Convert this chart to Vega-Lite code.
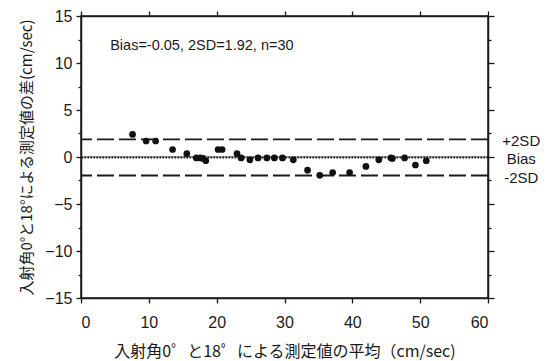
{
  "$schema": "https://vega.github.io/schema/vega-lite/v6.json",
  "width": 407,
  "height": 282,
  "autosize": {"type": "none"},
  "padding": {"left": 81, "top": 16, "right": 62, "bottom": 63},
  "background": "white",
  "config": {
    "view": {"stroke": "#1a1a1a", "strokeWidth": 1.5},
    "axis": {"grid": false, "domainColor": "#1a1a1a", "tickColor": "#1a1a1a", "labelColor": "#1a1a1a", "titleColor": "#1a1a1a", "labelFont": "Liberation Sans", "labelFontSize": 16, "titleFont": "Noto Sans CJK JP", "titleFontSize": 15, "titleFontWeight": "normal", "domainWidth": 1.5, "tickWidth": 1.3}
  },
  "datasets": {
    "pts": [
      {"mean": 7.6, "diff": 2.4},
      {"mean": 9.6, "diff": 1.7},
      {"mean": 11.0, "diff": 1.7},
      {"mean": 13.5, "diff": 0.8},
      {"mean": 15.6, "diff": 0.35},
      {"mean": 17.0, "diff": -0.1},
      {"mean": 17.6, "diff": -0.1},
      {"mean": 18.0, "diff": -0.15},
      {"mean": 18.4, "diff": -0.4},
      {"mean": 20.2, "diff": 0.8},
      {"mean": 20.8, "diff": 0.8},
      {"mean": 23.0, "diff": 0.35},
      {"mean": 23.6, "diff": -0.1},
      {"mean": 24.9, "diff": -0.3},
      {"mean": 26.1, "diff": -0.1},
      {"mean": 27.4, "diff": -0.1},
      {"mean": 28.5, "diff": -0.1},
      {"mean": 29.7, "diff": -0.1},
      {"mean": 31.3, "diff": -0.3},
      {"mean": 33.4, "diff": -1.4},
      {"mean": 35.2, "diff": -1.95},
      {"mean": 37.1, "diff": -1.65},
      {"mean": 39.6, "diff": -1.65},
      {"mean": 42.0, "diff": -1.0},
      {"mean": 43.9, "diff": -0.3},
      {"mean": 45.7, "diff": -0.1},
      {"mean": 47.7, "diff": -0.1},
      {"mean": 49.3, "diff": -0.85},
      {"mean": 50.9, "diff": -0.4},
      {"mean": 45.9, "diff": -0.15}
    ],
    "lims": [
      {"y": 1.87, "label": "+2SD", "kind": "sd"},
      {"y": -0.05, "label": "Bias", "kind": "bias"},
      {"y": -1.97, "label": "-2SD", "kind": "sd"}
    ],
    "note": [{"x": 4.3, "y": 11.8, "text": "Bias=-0.05, 2SD=1.92, n=30"}]
  },
  "resolve": {"axis": {"x": "independent", "y": "independent"}},
  "layer": [
    {
      "data": {"name": "lims"},
      "transform": [{"filter": "datum.kind === 'sd'"}],
      "mark": {"type": "rule", "color": "#1a1a1a", "strokeWidth": 1.8, "strokeDash": [17, 5]},
      "encoding": {
        "y": {"field": "y", "type": "quantitative", "scale": {"domain": [-15, 15]}, "axis": null}
      }
    },
    {
      "data": {"values": [{"y": 0}]},
      "mark": {"type": "rule", "color": "#1a1a1a", "strokeWidth": 0.8},
      "encoding": {
        "y": {"field": "y", "type": "quantitative", "scale": {"domain": [-15, 15]}, "axis": null}
      }
    },
    {
      "data": {"name": "lims"},
      "transform": [{"filter": "datum.kind === 'bias'"}],
      "mark": {"type": "rule", "color": "#1a1a1a", "strokeWidth": 2, "strokeDash": [1.5, 1.5]},
      "encoding": {
        "y": {"field": "y", "type": "quantitative", "scale": {"domain": [-15, 15]}, "axis": null}
      }
    },
    {
      "data": {"name": "pts"},
      "mark": {"type": "circle", "color": "#111", "opacity": 1, "size": 45},
      "encoding": {
        "x": {"field": "mean", "type": "quantitative", "scale": {"domain": [0, 60], "nice": false},
          "axis": {"orient": "bottom", "values": [0, 10, 20, 30, 40, 50, 60], "tickSize": 5, "labelPadding": 11,
            "title": "入射角0゜と18゜による測定値の平均（cm/sec)", "titleFontSize": 16, "titleY": 45}},
        "y": {"field": "diff", "type": "quantitative", "scale": {"domain": [-15, 15], "nice": false},
          "axis": {"orient": "left", "values": [-15, -12.5, -10, -7.5, -5, -2.5, 0, 2.5, 5, 7.5, 10, 12.5, 15],
            "labelExpr": "datum.value % 5 === 0 ? datum.label : ''",
            "tickSize": {"condition": {"test": "datum.value % 5 === 0", "value": 5}, "value": 3},
            "labelPadding": 4,
            "title": "入射角0°と18°による測定値の差(cm/sec)", "titleX": -47, "titleY": 141}}
      }
    },
    {
      "data": {"name": "note"},
      "mark": {"type": "text", "align": "left", "baseline": "middle", "font": "Liberation Sans", "fontSize": 14.5, "color": "#1a1a1a"},
      "encoding": {
        "x": {"field": "x", "type": "quantitative", "scale": {"domain": [0, 60], "nice": false},
          "axis": {"orient": "top", "values": [0, 10, 20, 30, 40, 50, 60], "labels": false, "tickSize": 5, "title": null}},
        "y": {"field": "y", "type": "quantitative", "scale": {"domain": [-15, 15], "nice": false},
          "axis": {"orient": "right", "values": [-15, -12.5, -10, -7.5, -5, -2.5, 0, 2.5, 5, 7.5, 10, 12.5, 15], "labels": false,
            "tickSize": {"condition": {"test": "datum.value % 5 === 0", "value": 6}, "value": 3}, "title": null}},
        "text": {"field": "text"}
      }
    },
    {
      "data": {"name": "lims"},
      "mark": {"type": "text", "align": "center", "baseline": "middle", "dy": 2, "font": "Liberation Sans", "fontSize": 15, "color": "#1a1a1a"},
      "encoding": {
        "x": {"datum": 64.9, "type": "quantitative", "scale": {"domain": [0, 60], "nice": false}, "axis": null},
        "y": {"field": "y", "type": "quantitative", "scale": {"domain": [-15, 15]}, "axis": null},
        "text": {"field": "label"}
      }
    }
  ]
}
